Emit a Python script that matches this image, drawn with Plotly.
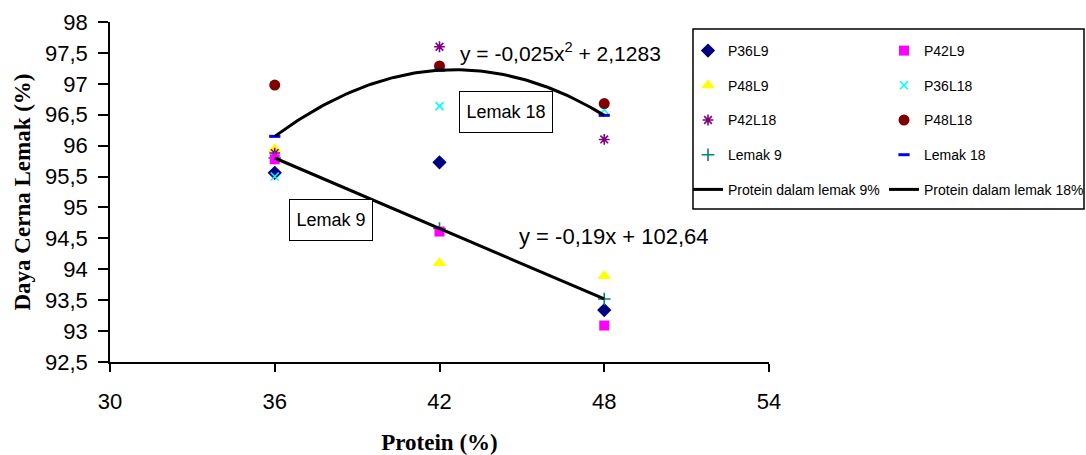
import numpy as np
import plotly.graph_objects as go

# ---- data ----
protein = [36, 42, 48]
P36L9 = [95.56, 95.73, 93.34]
P42L9 = [95.78, 94.61, 93.09]
P48L9 = [95.94, 94.10, 93.89]
P36L18 = [95.50, 96.64, 96.58]
P42L18 = [95.88, 97.60, 96.10]
P48L18 = [96.98, 97.29, 96.68]
Lemak9 = [95.80, 94.66, 93.52]
Lemak18 = [96.15, 97.22, 96.49]

x_ticks = [30, 36, 42, 48, 54]
y_ticks = [92.5, 93, 93.5, 94, 94.5, 95, 95.5, 96, 96.5, 97, 97.5, 98]

eq_lin = "y = -0,19x + 102,64"
eq_quad = "y = -0,025x<sup>2</sup> + 2,1283"
x_title = "<b>Protein (%)</b>"
y_title = "<b>Daya Cerna Lemak (%)</b>"

# ---- trend lines (fitted like the spreadsheet's trendlines) ----
c1 = np.polyfit(protein, Lemak9, 1)
c2 = np.polyfit(protein, Lemak18, 2)
xs = np.linspace(min(protein), max(protein), 120)

SANS = "Liberation Sans, Arial, sans-serif"
SERIF = "Liberation Serif, Times New Roman, serif"
LEG_FONT = dict(family=SANS, size=14, color="black")

fig = go.Figure()

def sc(name, y, symbol, color, size, legend, lw=0):
    fig.add_trace(go.Scatter(
        x=protein, y=y, mode="markers", name=name, legend=legend, legendgroup=name,
        marker=dict(symbol=symbol, color=color, size=size,
                    line=dict(color=color, width=lw)),
    ))

# legend column 1
sc("P36L9", P36L9, "diamond", "#000080", 11, "legend")
sc("P48L9", P48L9, "triangle-up", "#FFFF00", 12, "legend")
sc("P42L18", P42L18, "asterisk-open", "#800080", 9, "legend", lw=1.6)
sc("Lemak 9", Lemak9, "cross-thin-open", "#008080", 9, "legend", lw=1.6)
# legend column 2
sc("P42L9", P42L9, "square", "#FF00FF", 10, "legend2")
sc("P36L18", P36L18, "x-thin-open", "#00FFFF", 8, "legend2", lw=1.6)
sc("P48L18", P48L18, "circle", "#800000", 11, "legend2")
sc("Lemak 18", Lemak18, "line-ew-open", "#0000FF", 8, "legend2", lw=3)
# trend lines
fig.add_trace(go.Scatter(x=xs, y=np.polyval(c1, xs), mode="lines", name="Protein dalam lemak 9%",
                         legend="legend", legendgroup="l9", line=dict(color="black", width=3)))
fig.add_trace(go.Scatter(x=xs, y=np.polyval(c2, xs), mode="lines", name="Protein dalam lemak 18%",
                         legend="legend2", legendgroup="l18", line=dict(color="black", width=3)))

W, H = 1086, 455
# plot area in window pixels: x 110..769, y 22..362
L, R, T, B = 110, W - 769, 22, H - 362
pw, ph = W - L - R, H - T - B

def px(xp):
    return (xp - L) / pw

def py(yp):
    return (H - B - yp) / ph

axis_common = dict(showgrid=False, zeroline=False, showline=True, linecolor="black", linewidth=1.5,
                   ticks="outside", tickcolor="black", tickwidth=1.5,
                   tickfont=dict(family=SANS, size=22, color="black"))

fig.update_layout(
    width=W, height=H,
    margin=dict(l=L, r=R, t=T, b=B, autoexpand=False),
    paper_bgcolor="white", plot_bgcolor="white",
    separators=", ",
    xaxis=dict(range=[30, 54], tickvals=x_ticks, ticklen=8, ticklabelstandoff=11,
               title=dict(text=x_title, standoff=21, font=dict(family=SERIF, size=23, color="black")),
               **axis_common),
    yaxis=dict(range=[92.5, 98], tickvals=y_ticks, ticklen=10, ticklabelstandoff=6,
               title=dict(text=y_title, standoff=8, font=dict(family=SERIF, size=23, color="black")),
               **axis_common),
    legend=dict(x=px(688), y=py(35), xanchor="left", yanchor="top", bgcolor="rgba(0,0,0,0)",
                font=LEG_FONT, traceorder="grouped", tracegroupgap=13.5, itemwidth=30),
    legend2=dict(x=px(884), y=py(35), xanchor="left", yanchor="top", bgcolor="rgba(0,0,0,0)",
                 font=LEG_FONT, traceorder="grouped", tracegroupgap=13.5, itemwidth=30),
    shapes=[dict(type="rect", xref="paper", yref="paper", x0=px(693), x1=px(1084), y0=py(209), y1=py(29),
                 line=dict(color="black", width=1.5), fillcolor="white", layer="above")],
    annotations=[
        dict(x=48.35, y=94.53, xref="x", yref="y", text=eq_lin, showarrow=False,
             font=dict(family=SANS, size=22, color="black")),
        dict(x=42.67, y=97.52, xref="x", yref="y", text=eq_quad, showarrow=False, xanchor="left",
             font=dict(family=SANS, size=21, color="black")),
        dict(x=44.42, y=96.545, xref="x", yref="y", text="Lemak 18", showarrow=False,
             width=88, height=36, borderpad=2, bordercolor="black", borderwidth=1, bgcolor="white",
             font=dict(family=SANS, size=18, color="black")),
        dict(x=38.05, y=94.79, xref="x", yref="y", text="Lemak 9", showarrow=False,
             width=78, height=36, borderpad=2, bordercolor="black", borderwidth=1, bgcolor="white",
             font=dict(family=SANS, size=18, color="black")),
    ],
)

# remove the browser's default body margin so the figure fills the window exactly
fig.write_html("out.html", config={"displayModeBar": False},
               post_script="document.body.style.margin='0';document.body.style.overflow='hidden';")
